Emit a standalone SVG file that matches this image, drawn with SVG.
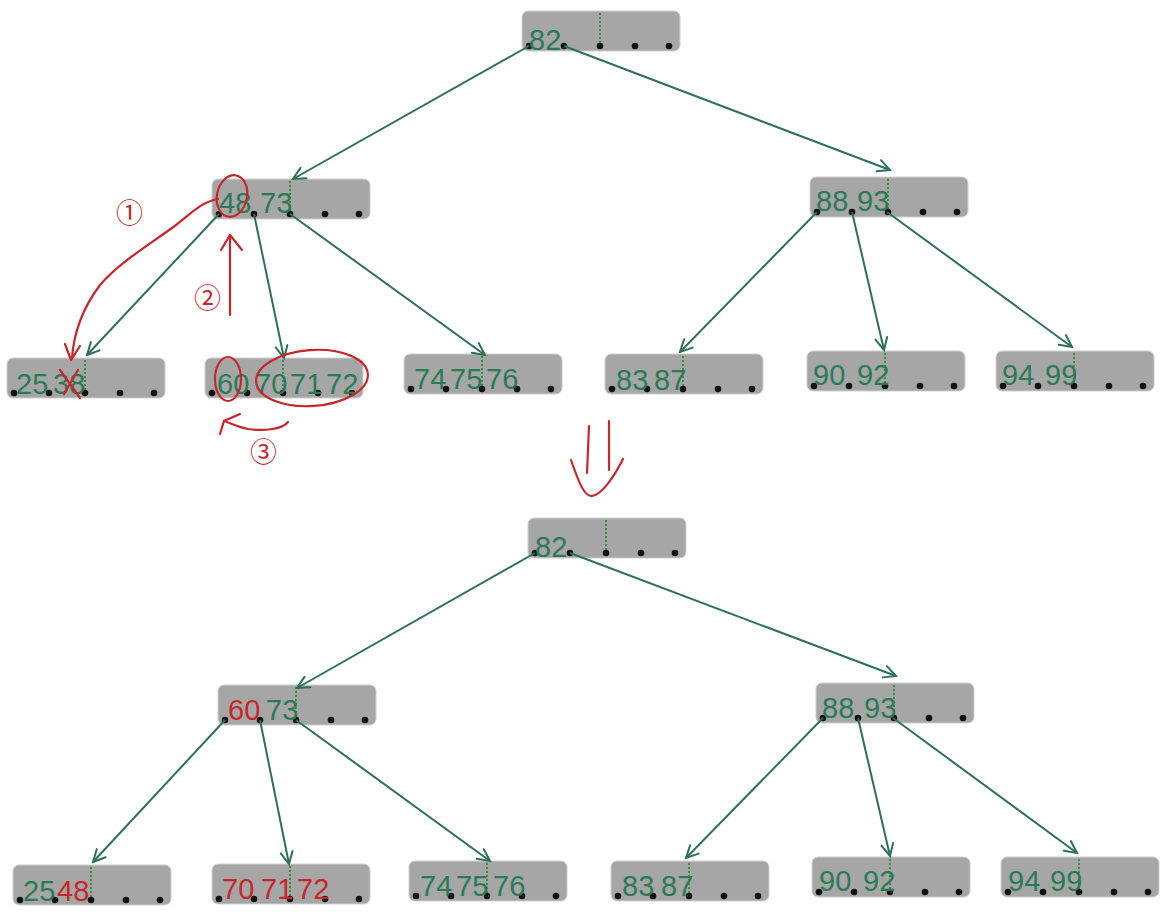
<svg xmlns="http://www.w3.org/2000/svg" xmlns:xlink="http://www.w3.org/1999/xlink" width="1174" height="922" viewBox="0 0 1174 922">
<style>
.bg{fill:#ffffff}
.box{fill:#a6a6a6;stroke:#cfcfcf;stroke-width:1}
.dot{fill:#111111}
.sep{stroke:#3f8a3a;stroke-width:2;stroke-dasharray:2 2}
.g{fill:#2a7a58;font-family:"Liberation Sans Narrow","Liberation Sans",sans-serif;font-size:29px}
.r{fill:#c8262a;font-family:"Liberation Sans Narrow","Liberation Sans",sans-serif;font-size:29px}
.edge{stroke:#2e7058;stroke-width:2;fill:none;marker-end:url(#ah)}
.red{stroke:#c8262a;stroke-width:2.2;fill:none;stroke-linecap:round;stroke-linejoin:round}
.rt{fill:#c8262a;font-family:"Noto Sans CJK SC","DejaVu Sans",sans-serif;font-size:27px}
</style>
<defs>
<marker id="ah" viewBox="-14 -8 16 16" refX="0" refY="0" markerWidth="16" markerHeight="16" markerUnits="userSpaceOnUse" orient="auto">
<path d="M-12,-6 L0,0 L-12,6" fill="none" stroke="#2e7058" stroke-width="2" stroke-linecap="round"/>
</marker>
<g id="tpl">
<rect class="box" x="0" y="0" width="158" height="40" rx="6"/>
<line class="sep" x1="78" y1="2" x2="78" y2="33"/>
<circle class="dot" cx="7" cy="35" r="3.3"/>
<circle class="dot" cx="42" cy="35" r="3.3"/>
<circle class="dot" cx="78" cy="35" r="3.3"/>
<circle class="dot" cx="113" cy="35" r="3.3"/>
<circle class="dot" cx="147" cy="35" r="3.3"/>
</g>
</defs>
<rect class="bg" x="0" y="0" width="1174" height="922"/>

<!-- top tree -->
<g id="t-root"><use xlink:href="#tpl" x="522" y="11"/><text class="g" x="529" y="50">82</text></g>
<g id="t-l1"><use xlink:href="#tpl" x="212" y="179"/><text class="g" x="219" y="213">48</text><text class="g" x="260" y="213">73</text></g>
<g id="t-r1"><use xlink:href="#tpl" x="810" y="177"/><text class="g" x="816" y="211">88</text><text class="g" x="857" y="211">93</text></g>
<g id="t-leaf1"><use xlink:href="#tpl" x="7" y="358"/><text class="g" x="16" y="394">25</text><text class="g" x="53" y="394">38</text></g>
<g id="t-leaf2"><use xlink:href="#tpl" x="205" y="358"/><text class="g" x="217" y="394">60</text><text class="g" x="255" y="394">70</text><text class="g" x="290" y="394">71</text><text class="g" x="326" y="394">72</text></g>
<g id="t-leaf3"><use xlink:href="#tpl" x="404" y="354"/><text class="g" x="414" y="389">74</text><text class="g" x="450" y="389">75</text><text class="g" x="486" y="389">76</text></g>
<g id="t-leaf4"><use xlink:href="#tpl" x="605" y="354"/><text class="g" x="616" y="390">83</text><text class="g" x="654" y="390">87</text></g>
<g id="t-leaf5"><use xlink:href="#tpl" x="807" y="351"/><text class="g" x="813" y="385">90</text><text class="g" x="857" y="385">92</text></g>
<g id="t-leaf6"><use xlink:href="#tpl" x="996" y="351"/><text class="g" x="1002" y="385">94</text><text class="g" x="1045" y="385">99</text></g>

<!-- bottom tree -->
<g id="b-root"><use xlink:href="#tpl" x="528" y="518"/><text class="g" x="535" y="557">82</text></g>
<g id="b-l1"><use xlink:href="#tpl" x="218" y="685"/><text class="r" x="228" y="720">60</text><text class="g" x="266" y="720">73</text></g>
<g id="b-r1"><use xlink:href="#tpl" x="816" y="683"/><text class="g" x="822" y="718">88</text><text class="g" x="864" y="718">93</text></g>
<g id="b-leaf1"><use xlink:href="#tpl" x="13" y="865"/><text class="g" x="23" y="901">25</text><text class="r" x="57" y="901">48</text></g>
<g id="b-leaf2"><use xlink:href="#tpl" x="212" y="864"/><text class="r" x="222" y="899">70</text><text class="r" x="261" y="899">71</text><text class="r" x="297" y="899">72</text></g>
<g id="b-leaf3"><use xlink:href="#tpl" x="409" y="861"/><text class="g" x="420" y="896">74</text><text class="g" x="456" y="896">75</text><text class="g" x="493" y="896">76</text></g>
<g id="b-leaf4"><use xlink:href="#tpl" x="611" y="861"/><text class="g" x="622" y="896">83</text><text class="g" x="661" y="896">87</text></g>
<g id="b-leaf5"><use xlink:href="#tpl" x="812" y="857"/><text class="g" x="819" y="891">90</text><text class="g" x="863" y="891">92</text></g>
<g id="b-leaf6"><use xlink:href="#tpl" x="1001" y="857"/><text class="g" x="1008" y="891">94</text><text class="g" x="1050" y="891">99</text></g>

<g id="connectors">
<line class="edge" x1="529" y1="46" x2="293" y2="179"/>
<line class="edge" x1="564" y1="46" x2="890" y2="170"/>
<line class="edge" x1="219" y1="214" x2="87" y2="355"/>
<line class="edge" x1="254" y1="214" x2="284" y2="358"/>
<line class="edge" x1="290" y1="214" x2="485" y2="355"/>
<line class="edge" x1="817" y1="212" x2="680" y2="352"/>
<line class="edge" x1="852" y1="212" x2="884" y2="350"/>
<line class="edge" x1="887" y1="212" x2="1072" y2="347"/>
<line class="edge" x1="535" y1="553" x2="297" y2="688"/>
<line class="edge" x1="570" y1="553" x2="896" y2="676"/>
<line class="edge" x1="225" y1="720" x2="93" y2="862"/>
<line class="edge" x1="260" y1="720" x2="289" y2="864"/>
<line class="edge" x1="296" y1="720" x2="490" y2="861"/>
<line class="edge" x1="823" y1="718" x2="686" y2="858"/>
<line class="edge" x1="858" y1="718" x2="890" y2="856"/>
<line class="edge" x1="893" y1="718" x2="1077" y2="853"/>
</g>

<g id="annotations">
<ellipse class="red" cx="232" cy="196" rx="15" ry="21" transform="rotate(12 232 196)"/>
<path class="red" d="M218,199 C200,202 190,215 172,228 C150,244 120,262 100,285 C85,305 74,330 72,358"/>
<path class="red" d="M65,344 L71,360 L80,346"/>
<text class="rt" x="116" y="223">①</text>
<path class="red" d="M230,315 L230,236"/>
<path class="red" d="M221,250 L230,235 L242,250"/>
<text class="rt" x="194" y="308">②</text>
<path class="red" d="M60,370 L80,398 M78,370 L64,394"/>
<ellipse class="red" cx="228" cy="379" rx="13" ry="22"/>
<ellipse class="red" cx="312" cy="378" rx="56" ry="28" transform="rotate(-4 312 378)"/>
<path class="red" d="M288,422 C282,430 262,431 248,429 C238,427 230,423 224,421"/>
<path class="red" d="M240,414 L224,421 L220,434"/>
<text class="rt" x="250" y="462">③</text>
<path class="red" d="M589,426 L587,473 M609,421 L609,470"/>
<path class="red" d="M571,460 C578,480 584,497 592,496 C602,495 615,475 623,459"/>
</g>
</svg>
